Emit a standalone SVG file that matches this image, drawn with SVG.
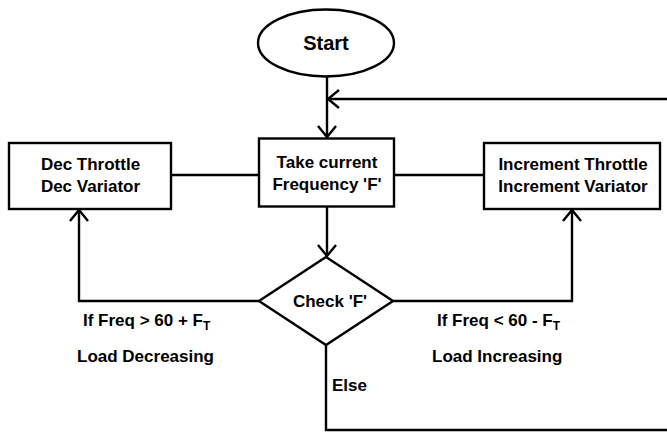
<svg xmlns="http://www.w3.org/2000/svg" width="667" height="433" viewBox="0 0 667 433">
<style>
.s{fill:#fff;stroke:#000;stroke-width:2.4}
.c{fill:none;stroke:#000;stroke-width:2.4}
text{font-family:"Liberation Sans",Arial,sans-serif;font-weight:bold;font-size:17px;fill:#000}
.m{text-anchor:middle}
</style>
<defs>
<marker id="a" markerUnits="userSpaceOnUse" viewBox="-13 -12 15 24" markerWidth="15" markerHeight="24" refX="0" refY="0" orient="auto">
<path d="M-11,-9 L0,0 L-11,9" fill="none" stroke="#000" stroke-width="2.4"/>
</marker>
</defs>
<g id="connectors">
<path class="c" d="M327,77 V137" marker-end="url(#a)"/>
<path class="c" d="M667,99 H328" marker-end="url(#a)"/>
<path class="c" d="M171,175 H259"/>
<path class="c" d="M394,175 H484"/>
<path class="c" d="M327,207 V256" marker-end="url(#a)"/>
<path class="c" d="M259,301 H79 V210" marker-end="url(#a)"/>
<path class="c" d="M393,301 H572 V210" marker-end="url(#a)"/>
<path class="c" d="M326,345 V430 H667"/>
</g>
<g id="start">
<ellipse class="s" cx="326" cy="43" rx="68" ry="33.5"/>
<text class="m" x="326" y="50" style="font-size:20px">Start</text>
</g>
<g id="take">
<rect class="s" x="259" y="138.5" width="135" height="68"/>
<text class="m" x="327" y="168">Take current</text>
<text class="m" x="327" y="190">Frequency 'F'</text>
</g>
<g id="dec">
<rect class="s" x="9" y="143" width="162" height="66"/>
<text class="m" x="90.5" y="170">Dec Throttle</text>
<text class="m" x="90.5" y="192">Dec Variator</text>
</g>
<g id="inc">
<rect class="s" x="484" y="143" width="176" height="66"/>
<text class="m" x="573" y="170">Increment Throttle</text>
<text class="m" x="573" y="192">Increment Variator</text>
</g>
<g id="check">
<polygon class="s" points="326,257 393,301 326,345 259,301"/>
<text class="m" x="330" y="307">Check 'F'</text>
</g>
<g id="labels">
<text x="83" y="326">If Freq &gt; 60 + F<tspan dy="4" style="font-size:12px">T</tspan></text>
<text x="77" y="362">Load Decreasing</text>
<text x="437" y="326">If Freq &lt; 60 - F<tspan dy="4" style="font-size:12px">T</tspan></text>
<text x="432" y="362">Load Increasing</text>
<text x="332" y="391">Else</text>
</g>
</svg>
